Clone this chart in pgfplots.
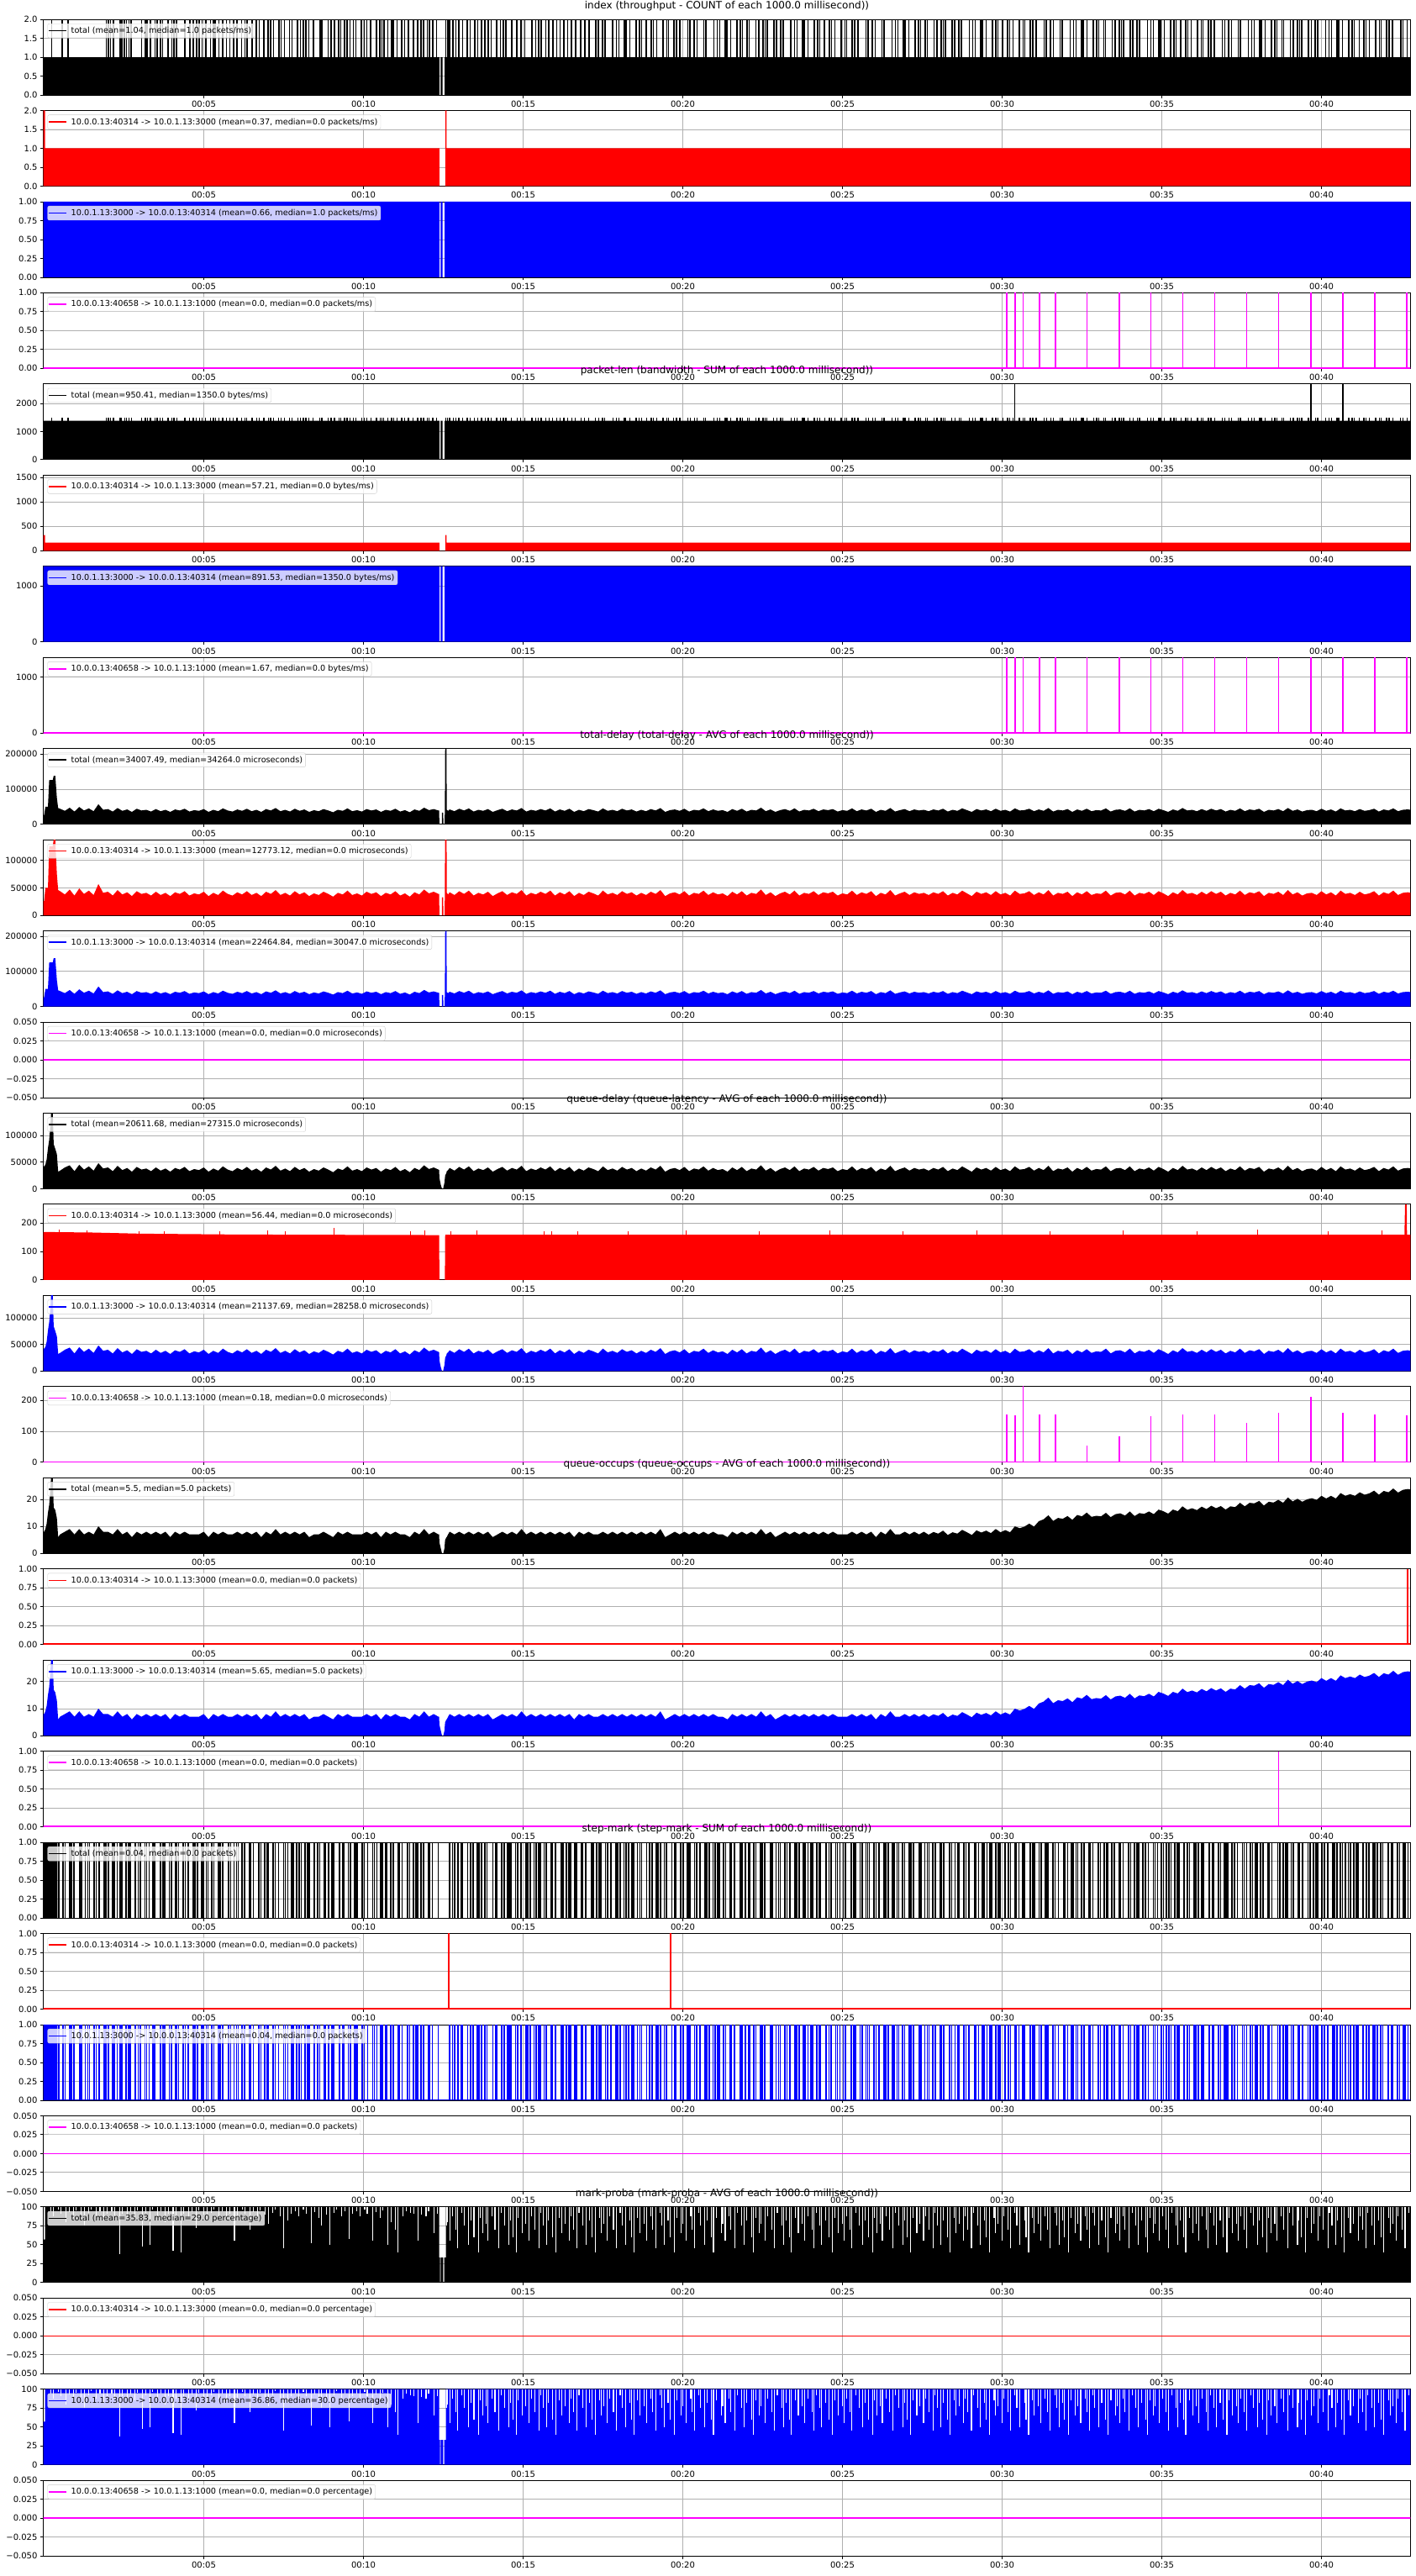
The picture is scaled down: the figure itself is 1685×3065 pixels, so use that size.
\documentclass[border=0pt]{standalone}
\usepackage{fontspec}
\setmainfont{DejaVu Sans}
\usepackage{pgfplots}
\usepackage{pgfplotstable}
\pgfplotsset{compat=1.18}
\definecolor{gridc}{HTML}{B0B0B0}
\definecolor{legc}{HTML}{CCCCCC}
\definecolor{mag}{HTML}{FF00FF}
\definecolor{rd}{HTML}{FF0000}
\definecolor{bl}{HTML}{0000FF}
\pgfplotsset{
  layers/mine/.define layer set={axis background,axis grid,pre main,main,axis ticks,axis lines,axis tick labels,axis descriptions,axis foreground}{},
  pan/.style={
    set layers=mine,
    anchor=north west,
    width=1627pt, height=90pt, scale only axis,
    xmin=-0.026, xmax=42.79,
    xtick={5,10,15,20,25,30,35,40},
    xticklabels={00:05,00:10,00:15,00:20,00:25,00:30,00:35,00:40},
    tick pos=left, tick align=outside, major tick length=3.5pt,
    tick style={black, line width=0.8pt},
    axis line style={black, line width=0.8pt},
    grid=major, grid style={gridc, line width=0.8pt},
    tick label style={font=\fontsize{10}{12}\selectfont},
    scaled y ticks=false,
    legend style={at={(0,1)}, anchor=north west, xshift=5pt, yshift=-5pt,
      draw=legc, fill=white, fill opacity=0.8, text opacity=1,
      rounded corners=2pt, inner xsep=1pt, inner ysep=1.5pt,
      font=\fontsize{9.7}{11.6}\selectfont, nodes={inner sep=2.5pt}},
    legend cell align=left,
    legend image code/.code={\draw[##1] (0pt,0pt) -- (21pt,0pt); \path (23pt,0pt);},
    title style={font=\fontsize{12}{14}\selectfont, at={(0.5,1)}, anchor=base, yshift=6.5pt},
  },
  yA/.style={ymin=0,ymax=2,ytick={0,0.5,1,1.5,2},yticklabels={0.0,0.5,1.0,1.5,2.0}},
  yB/.style={ymin=0,ymax=1,ytick={0,0.25,0.5,0.75,1},yticklabels={0.00,0.25,0.50,0.75,1.00}},
  yZ/.style={ymin=-0.05,ymax=0.05,ytick={-0.05,-0.025,0,0.025,0.05},yticklabels={−0.050,−0.025,0.000,0.025,0.050}},
  yP/.style={ymin=0,ymax=100,ytick={0,25,50,75,100},yticklabels={0,25,50,75,100}},
}
\newcommand{\leg}[2]{\addlegendimage{#1,line width=1.5pt}\addlegendentry{#2}}
\newcommand{\zl}[2]{\addplot[#1, line width=#2, forget plot] coordinates {(-0.1,0)(42.9,0)};}

% x (minutes), td = total-delay (thousand us), qd = queue-delay (thousand us), qo = queue occupancy (packets)
\pgfplotstableread{
x td qd qo
-0.10 26 42 8
0.00 26 42 8
0.04 50 45 9
0.08 50 55 11
0.12 50 76 15
0.16 126 92 18
0.20 126 120 24
0.22 126 145 29
0.27 126 145 29
0.30 138 84 17
0.35 138 75 16
0.40 75 65 13
0.44 46 32 6
0.50 44 34 7
0.65 38 40 8
0.80 47 44 9
0.95 36 33 7
1.10 49 45 9
1.25 39 36 7
1.40 45 42 8
1.55 37 34 7
1.70 57 48 10
1.85 41 38 8
2.00 43 40 8
2.15 36 33 7
2.30 46 43 9
2.45 38 35 7
2.60 42 39 8
2.75 35 32 6
2.90 44 41 8
3.05 39 36 7
3.20 41 38 8
3.35 36 33 7
3.50 43 40 8
3.65 37 34 7
3.80 41 38 8
3.95 35 32 6
4.10 42 39 8
4.25 39 36 7
4.40 44 41 8
4.55 36 33 7
4.70 40 37 7
4.85 38 35 7
5.00 43 40 8
5.15 35 32 6
5.30 41 38 8
5.45 37 34 7
5.60 45 42 8
5.75 39 36 7
5.90 36 33 7
6.05 42 39 8
6.20 38 35 7
6.35 44 41 8
6.50 37 34 7
6.65 41 38 8
6.80 35 32 6
6.95 43 40 8
7.10 39 36 7
7.25 46 43 9
7.40 37 34 7
7.55 41 38 8
7.70 36 33 7
7.85 44 41 8
8.00 38 35 7
8.15 42 39 8
8.30 35 32 6
8.45 40 37 7
8.60 37 34 7
8.75 43 40 8
8.90 39 36 7
9.05 34 31 6
9.20 41 38 8
9.35 38 35 7
9.50 45 42 8
9.65 37 34 7
9.80 40 37 7
9.95 36 33 7
10.10 43 40 8
10.25 39 36 7
10.40 42 39 8
10.55 35 32 6
10.70 41 38 8
10.85 38 35 7
11.00 44 41 8
11.15 36 33 7
11.30 40 37 7
11.45 34 31 6
11.60 42 39 8
11.75 38 35 7
11.90 47 44 9
12.05 40 37 7
12.20 43 40 8
12.35 39 36 7
12.37 39 35 7
12.38 0 20 4
12.42 0 8 2
12.46 0 0 0
12.461 33 0 0
12.50 33 0 0
12.501 0 2 0
12.54 0 12 2
12.55 40 20 4
12.56 216 25 5
12.60 216 30 6
12.61 41 33 6
12.65 38 35 7
12.70 42 39 8
12.85 37 34 7
13.00 44 41 8
13.15 39 36 7
13.30 45 42 8
13.45 36 33 7
13.60 41 38 8
13.75 38 35 7
13.90 43 40 8
14.05 35 32 6
14.20 40 37 7
14.35 44 41 8
14.50 37 34 7
14.65 42 39 8
14.80 39 36 7
14.95 46 43 9
15.10 36 33 7
15.25 41 38 8
15.40 38 35 7
15.55 43 40 8
15.70 39 36 7
15.85 45 42 8
16.00 36 33 7
16.15 42 39 8
16.30 38 35 7
16.45 44 41 8
16.60 35 32 6
16.75 41 38 8
16.90 37 34 7
17.05 43 40 8
17.20 40 37 7
17.35 36 33 7
17.50 45 42 8
17.65 38 35 7
17.80 41 38 8
17.95 37 34 7
18.10 44 41 8
18.25 39 36 7
18.40 42 39 8
18.55 36 33 7
18.70 41 38 8
18.85 37 34 7
19.00 43 40 8
19.15 39 36 7
19.30 46 43 9
19.45 35 32 6
19.60 40 37 7
19.75 42 39 8
19.90 38 35 7
20.05 44 41 8
20.20 36 33 7
20.35 41 38 8
20.50 39 36 7
20.65 45 42 8
20.80 37 34 7
20.95 42 39 8
21.10 38 35 7
21.25 40 37 7
21.40 35 32 6
21.55 43 40 8
21.70 38 35 7
21.85 44 41 8
22.00 36 33 7
22.15 41 38 8
22.30 39 36 7
22.45 47 44 9
22.60 37 34 7
22.75 42 39 8
22.90 35 32 6
23.05 40 37 7
23.20 43 40 8
23.35 38 35 7
23.50 45 42 8
23.65 36 33 7
23.80 41 38 8
23.95 39 36 7
24.10 44 41 8
24.25 37 34 7
24.40 42 39 8
24.55 40 37 7
24.70 43 40 8
24.85 36 33 7
25.00 40 37 7
25.15 38 35 7
25.30 45 42 8
25.45 37 34 7
25.60 42 39 8
25.75 39 36 7
25.90 44 41 8
26.05 35 32 6
26.20 41 38 8
26.35 38 35 7
26.50 46 43 9
26.65 36 33 7
26.80 40 37 7
26.95 43 40 8
27.10 37 34 7
27.25 42 39 8
27.40 39 36 7
27.55 41 38 8
27.70 37 34 6.9
27.85 42 39 7.9
28.00 39 36 7.3
28.15 44 41 8.4
28.30 36 33 6.8
28.45 41 38 7.8
28.60 38 35 7.3
28.75 45 42 8.7
28.90 40 37 7.8
29.05 35 32 6.8
29.20 43 40 8.5
29.35 39 36 7.7
29.50 42 39 8.4
29.65 37 34 7.5
29.80 44 41 9.0
29.95 38 35 7.8
30.10 41 38 8.6
30.25 36 33 7.8
30.40 45 42 10.0
30.55 39 36 9.3
30.70 40 37 9.9
30.85 44 41 11.0
31.00 37 34 9.9
31.15 42 39 11.9
31.30 38 35 12.6
31.45 46 43 14.1
31.60 36 33 12.0
31.75 41 38 13.1
31.90 39 36 12.8
32.05 43 40 13.8
32.20 35 32 12.4
32.35 42 39 14.2
32.50 38 35 13.7
32.65 44 41 15.1
32.80 37 34 13.5
32.95 40 37 13.9
33.10 39 36 13.7
33.25 45 42 15.0
33.40 36 33 13.4
33.55 41 38 14.5
33.70 42 39 14.8
33.85 38 35 14.0
34.00 45 42 15.5
34.15 36 33 13.8
34.30 41 38 14.9
34.45 39 36 14.6
34.60 43 40 15.5
34.75 37 34 14.5
34.90 44 41 16.2
35.05 40 37 15.6
35.20 35 32 14.7
35.35 42 39 16.2
35.50 38 35 15.6
35.65 46 43 17.4
35.80 39 36 16.1
35.95 41 38 16.7
36.10 37 34 16.0
36.25 43 40 17.3
36.40 38 35 16.4
36.55 44 41 17.6
36.70 39 36 16.7
36.85 43 40 17.5
37.00 36 33 16.2
37.15 41 38 17.4
37.30 38 35 17.1
37.45 45 42 18.7
37.60 37 34 17.4
37.75 42 39 18.7
37.90 40 37 18.5
38.05 44 41 19.4
38.20 35 32 17.7
38.35 41 38 19.1
38.50 39 36 18.8
38.65 43 40 19.8
38.80 37 34 18.7
38.95 46 43 20.7
39.10 38 35 19.2
39.25 42 39 20.2
39.40 36 33 19.1
39.55 40 37 20.0
39.70 41 38 20.4
39.85 37 34 19.8
40.00 44 41 21.3
40.15 38 35 20.3
40.30 42 39 21.3
40.45 36 33 20.3
40.60 45 42 22.3
40.75 39 36 21.3
40.90 41 38 21.9
41.05 37 34 21.3
41.20 43 40 22.6
41.35 38 35 21.7
41.50 40 37 22.2
41.65 44 41 23.2
41.80 36 33 21.7
41.95 42 39 23.1
42.10 39 36 22.6
42.25 45 42 24.0
42.40 37 34 22.5
42.55 41 38 23.5
42.70 42 39 23.8
42.90 40 37 23.5
}\tD

% index: positions of 1-second bins holding 2 packets (c = count, b = bytes)
\pgfplotstableread[row sep=\\]{x c b\\0.24 2 1500\\0.57 2 1500\\0.75 2 1500\\1.95 2 1500\\2.01 2 1500\\2.08 2 1500\\2.17 2 1500\\2.38 2 1500\\2.43 2 1500\\2.52 2 1500\\2.58 2 1500\\2.66 2 1500\\2.73 2 1500\\3.05 2 1500\\3.17 2 1500\\3.23 2 1500\\3.33 2 1500\\3.47 2 1500\\3.54 2 1500\\3.64 2 1500\\3.71 2 1500\\3.88 2 1500\\4.00 2 1500\\4.07 2 1500\\4.15 2 1500\\4.41 2 1500\\4.56 2 1500\\4.67 2 1500\\4.77 2 1500\\4.86 2 1500\\4.95 2 1500\\5.06 2 1500\\5.21 2 1500\\5.30 2 1500\\5.36 2 1500\\5.47 2 1500\\5.59 2 1500\\5.71 2 1500\\5.82 2 1500\\5.93 2 1500\\6.04 2 1500\\6.18 2 1500\\6.29 2 1500\\6.35 2 1500\\6.51 2 1500\\6.65 2 1500\\6.74 2 1500\\6.88 2 1500\\7.02 2 1500\\7.09 2 1500\\7.18 2 1500\\7.35 2 1500\\7.42 2 1500\\7.53 2 1500\\7.68 2 1500\\7.76 2 1500\\7.94 2 1500\\8.03 2 1500\\8.12 2 1500\\8.20 2 1500\\8.29 2 1500\\8.43 2 1500\\8.64 2 1500\\8.70 2 1500\\8.90 2 1500\\8.99 2 1500\\9.09 2 1500\\9.23 2 1500\\9.29 2 1500\\9.41 2 1500\\9.49 2 1500\\9.58 2 1500\\9.68 2 1500\\9.76 2 1500\\9.94 2 1500\\10.03 2 1500\\10.11 2 1500\\10.23 2 1500\\10.41 2 1500\\10.52 2 1500\\10.58 2 1500\\10.64 2 1500\\10.76 2 1500\\10.88 2 1500\\10.94 2 1500\\11.05 2 1500\\11.20 2 1500\\11.29 2 1500\\11.41 2 1500\\11.56 2 1500\\11.70 2 1500\\11.80 2 1500\\11.88 2 1500\\12.00 2 1500\\12.06 2 1500\\12.17 2 1500\\12.29 2 1500\\12.58 2 1500\\12.64 2 1500\\12.70 2 1500\\12.81 2 1500\\12.90 2 1500\\12.99 2 1500\\13.11 2 1500\\13.25 2 1500\\13.34 2 1500\\13.48 2 1500\\13.58 2 1500\\13.70 2 1500\\13.81 2 1500\\13.91 2 1500\\14.00 2 1500\\14.17 2 1500\\14.29 2 1500\\14.38 2 1500\\14.46 2 1500\\14.64 2 1500\\14.81 2 1500\\14.93 2 1500\\15.05 2 1500\\15.28 2 1500\\15.40 2 1500\\15.48 2 1500\\15.57 2 1500\\15.71 2 1500\\15.81 2 1500\\15.93 2 1500\\16.05 2 1500\\16.16 2 1500\\16.28 2 1500\\16.40 2 1500\\16.52 2 1500\\16.64 2 1500\\16.81 2 1500\\16.93 2 1500\\17.06 2 1500\\17.27 2 1500\\17.36 2 1500\\17.49 2 1500\\17.56 2 1500\\17.81 2 1500\\17.92 2 1500\\18.00 2 1500\\18.17 2 1500\\18.22 2 1500\\18.34 2 1500\\18.54 2 1500\\18.64 2 1500\\18.71 2 1500\\18.86 2 1500\\19.01 2 1500\\19.08 2 1500\\19.18 2 1500\\19.38 2 1500\\19.50 2 1500\\19.55 2 1500\\19.72 2 1500\\19.80 2 1500\\19.91 2 1500\\20.16 2 1500\\20.23 2 1500\\20.36 2 1500\\20.45 2 1500\\20.66 2 1500\\20.72 2 1500\\20.97 2 1500\\21.08 2 1500\\21.16 2 1500\\21.33 2 1500\\21.38 2 1500\\21.50 2 1500\\21.70 2 1500\\21.80 2 1500\\21.87 2 1500\\22.02 2 1500\\22.08 2 1500\\22.29 2 1500\\22.38 2 1500\\22.51 2 1500\\22.58 2 1500\\22.64 2 1500\\22.85 2 1500\\22.94 2 1500\\23.07 2 1500\\23.14 2 1500\\23.39 2 1500\\23.50 2 1500\\23.58 2 1500\\23.75 2 1500\\23.80 2 1500\\23.92 2 1500\\24.12 2 1500\\24.22 2 1500\\24.29 2 1500\\24.44 2 1500\\24.59 2 1500\\24.66 2 1500\\24.76 2 1500\\24.96 2 1500\\25.08 2 1500\\25.13 2 1500\\25.30 2 1500\\25.38 2 1500\\25.49 2 1500\\25.74 2 1500\\25.81 2 1500\\25.94 2 1500\\26.03 2 1500\\26.24 2 1500\\26.30 2 1500\\26.55 2 1500\\26.66 2 1500\\26.74 2 1500\\26.91 2 1500\\26.96 2 1500\\27.08 2 1500\\27.28 2 1500\\27.38 2 1500\\27.45 2 1500\\27.60 2 1500\\27.66 2 1500\\27.87 2 1500\\27.96 2 1500\\28.09 2 1500\\28.16 2 1500\\28.22 2 1500\\28.43 2 1500\\28.52 2 1500\\28.65 2 1500\\28.72 2 1500\\28.97 2 1500\\29.08 2 1500\\29.16 2 1500\\29.33 2 1500\\29.38 2 1500\\29.50 2 1500\\29.70 2 1500\\29.80 2 1500\\29.87 2 1500\\30.02 2 1500\\30.17 2 1500\\30.24 2 1500\\30.34 2 1500\\30.54 2 1500\\30.66 2 1500\\30.71 2 1500\\30.88 2 1500\\30.96 2 1500\\31.07 2 1500\\31.32 2 1500\\31.39 2 1500\\31.52 2 1500\\31.61 2 1500\\31.82 2 1500\\31.88 2 1500\\32.13 2 1500\\32.24 2 1500\\32.32 2 1500\\32.49 2 1500\\32.54 2 1500\\32.66 2 1500\\32.86 2 1500\\32.96 2 1500\\33.03 2 1500\\33.18 2 1500\\33.24 2 1500\\33.45 2 1500\\33.54 2 1500\\33.67 2 1500\\33.74 2 1500\\33.80 2 1500\\34.01 2 1500\\34.10 2 1500\\34.23 2 1500\\34.30 2 1500\\34.55 2 1500\\34.66 2 1500\\34.74 2 1500\\34.91 2 1500\\34.96 2 1500\\35.08 2 1500\\35.28 2 1500\\35.38 2 1500\\35.45 2 1500\\35.60 2 1500\\35.75 2 1500\\35.82 2 1500\\35.92 2 1500\\36.12 2 1500\\36.24 2 1500\\36.29 2 1500\\36.46 2 1500\\36.54 2 1500\\36.65 2 1500\\36.90 2 1500\\36.97 2 1500\\37.10 2 1500\\37.19 2 1500\\37.40 2 1500\\37.46 2 1500\\37.71 2 1500\\37.82 2 1500\\37.90 2 1500\\38.07 2 1500\\38.12 2 1500\\38.24 2 1500\\38.44 2 1500\\38.54 2 1500\\38.61 2 1500\\38.76 2 1500\\38.82 2 1500\\39.03 2 1500\\39.12 2 1500\\39.25 2 1500\\39.32 2 1500\\39.38 2 1500\\39.59 2 1500\\39.68 2 1500\\39.81 2 1500\\39.88 2 1500\\40.13 2 1500\\40.24 2 1500\\40.32 2 1500\\40.49 2 1500\\40.54 2 1500\\40.66 2 1500\\40.86 2 1500\\40.96 2 1500\\41.03 2 1500\\41.18 2 1500\\41.33 2 1500\\41.40 2 1500\\41.50 2 1500\\41.70 2 1500\\41.82 2 1500\\41.87 2 1500\\42.04 2 1500\\42.12 2 1500\\42.23 2 1500\\42.48 2 1500\\42.55 2 1500\\42.68 2 1500\\}\tIdx

% step-mark: bins holding one marked packet
\pgfplotstableread[row sep=\\]{x s\\0.47 1\\0.59 1\\0.66 1\\0.81 1\\0.85 1\\0.94 1\\1.12 1\\1.18 1\\1.29 1\\1.37 1\\1.42 1\\1.56 1\\1.63 1\\1.73 1\\1.89 1\\1.94 1\\2.02 1\\2.14 1\\2.20 1\\2.29 1\\2.38 1\\2.44 1\\2.56 1\\2.64 1\\2.69 1\\2.85 1\\2.95 1\\3.02 1\\3.16 1\\3.21 1\\3.29 1\\3.40 1\\3.46 1\\3.64 1\\3.73 1\\3.77 1\\3.92 1\\3.99 1\\4.11 1\\4.16 1\\4.21 1\\4.35 1\\4.42 1\\4.52 1\\4.68 1\\4.73 1\\4.81 1\\4.93 1\\4.99 1\\5.08 1\\5.13 1\\5.25 1\\5.32 1\\5.47 1\\5.51 1\\5.60 1\\5.78 1\\5.84 1\\5.95 1\\6.03 1\\6.08 1\\6.20 1\\6.27 1\\6.42 1\\6.46 1\\6.55 1\\6.73 1\\6.79 1\\6.90 1\\6.98 1\\7.03 1\\7.17 1\\7.24 1\\7.34 1\\7.50 1\\7.55 1\\7.63 1\\7.75 1\\7.81 1\\7.90 1\\7.99 1\\8.05 1\\8.17 1\\8.25 1\\8.30 1\\8.46 1\\8.56 1\\8.63 1\\8.77 1\\8.82 1\\8.90 1\\9.01 1\\9.07 1\\9.25 1\\9.34 1\\9.38 1\\9.53 1\\9.60 1\\9.72 1\\9.77 1\\9.82 1\\9.96 1\\10.03 1\\10.13 1\\10.29 1\\10.34 1\\10.42 1\\10.54 1\\10.60 1\\10.69 1\\10.74 1\\10.86 1\\10.93 1\\11.08 1\\11.12 1\\11.21 1\\11.39 1\\11.45 1\\11.56 1\\11.64 1\\11.69 1\\11.81 1\\11.88 1\\12.03 1\\12.07 1\\12.16 1\\12.34 1\\12.70 1\\12.79 1\\12.85 1\\12.97 1\\13.05 1\\13.10 1\\13.26 1\\13.36 1\\13.43 1\\13.57 1\\13.62 1\\13.70 1\\13.81 1\\13.87 1\\14.05 1\\14.14 1\\14.18 1\\14.33 1\\14.40 1\\14.52 1\\14.57 1\\14.62 1\\14.76 1\\14.83 1\\14.93 1\\15.09 1\\15.14 1\\15.22 1\\15.34 1\\15.40 1\\15.49 1\\15.54 1\\15.66 1\\15.73 1\\15.88 1\\15.92 1\\16.01 1\\16.19 1\\16.25 1\\16.36 1\\16.44 1\\16.49 1\\16.61 1\\16.68 1\\16.83 1\\16.87 1\\16.96 1\\17.14 1\\17.20 1\\17.31 1\\17.39 1\\17.44 1\\17.58 1\\17.65 1\\17.75 1\\17.91 1\\17.96 1\\18.04 1\\18.16 1\\18.22 1\\18.31 1\\18.40 1\\18.46 1\\18.58 1\\18.66 1\\18.71 1\\18.87 1\\18.97 1\\19.04 1\\19.18 1\\19.23 1\\19.31 1\\19.42 1\\19.48 1\\19.66 1\\19.75 1\\19.79 1\\19.94 1\\20.01 1\\20.13 1\\20.18 1\\20.23 1\\20.37 1\\20.44 1\\20.54 1\\20.70 1\\20.75 1\\20.83 1\\20.95 1\\21.01 1\\21.10 1\\21.15 1\\21.27 1\\21.34 1\\21.49 1\\21.53 1\\21.62 1\\21.80 1\\21.86 1\\21.97 1\\22.05 1\\22.10 1\\22.22 1\\22.29 1\\22.44 1\\22.48 1\\22.57 1\\22.75 1\\22.81 1\\22.92 1\\23.00 1\\23.05 1\\23.19 1\\23.26 1\\23.36 1\\23.52 1\\23.57 1\\23.65 1\\23.77 1\\23.83 1\\23.92 1\\24.01 1\\24.07 1\\24.19 1\\24.27 1\\24.32 1\\24.48 1\\24.58 1\\24.65 1\\24.79 1\\24.84 1\\24.92 1\\25.03 1\\25.09 1\\25.27 1\\25.36 1\\25.40 1\\25.55 1\\25.62 1\\25.74 1\\25.79 1\\25.84 1\\25.98 1\\26.05 1\\26.15 1\\26.31 1\\26.36 1\\26.44 1\\26.56 1\\26.62 1\\26.71 1\\26.76 1\\26.88 1\\26.95 1\\27.10 1\\27.14 1\\27.23 1\\27.41 1\\27.47 1\\27.58 1\\27.66 1\\27.71 1\\27.83 1\\27.90 1\\28.05 1\\28.09 1\\28.18 1\\28.36 1\\28.42 1\\28.53 1\\28.61 1\\28.66 1\\28.80 1\\28.87 1\\28.97 1\\29.13 1\\29.18 1\\29.26 1\\29.38 1\\29.44 1\\29.53 1\\29.62 1\\29.68 1\\29.80 1\\29.88 1\\29.93 1\\30.09 1\\30.19 1\\30.26 1\\30.40 1\\30.45 1\\30.53 1\\30.64 1\\30.70 1\\30.88 1\\30.97 1\\31.01 1\\31.16 1\\31.23 1\\31.35 1\\31.40 1\\31.45 1\\31.59 1\\31.66 1\\31.76 1\\31.92 1\\31.97 1\\32.05 1\\32.17 1\\32.23 1\\32.32 1\\32.37 1\\32.49 1\\32.56 1\\32.71 1\\32.75 1\\32.84 1\\33.02 1\\33.08 1\\33.19 1\\33.27 1\\33.32 1\\33.44 1\\33.51 1\\33.66 1\\33.70 1\\33.79 1\\33.97 1\\34.03 1\\34.14 1\\34.22 1\\34.27 1\\34.41 1\\34.48 1\\34.58 1\\34.74 1\\34.79 1\\34.87 1\\34.99 1\\35.05 1\\35.14 1\\35.23 1\\35.29 1\\35.41 1\\35.49 1\\35.54 1\\35.70 1\\35.80 1\\35.87 1\\36.01 1\\36.06 1\\36.14 1\\36.25 1\\36.31 1\\36.49 1\\36.58 1\\36.62 1\\36.77 1\\36.84 1\\36.96 1\\37.01 1\\37.06 1\\37.20 1\\37.27 1\\37.37 1\\37.53 1\\37.58 1\\37.66 1\\37.78 1\\37.84 1\\37.93 1\\37.98 1\\38.10 1\\38.17 1\\38.32 1\\38.36 1\\38.45 1\\38.63 1\\38.69 1\\38.80 1\\38.88 1\\38.93 1\\39.05 1\\39.12 1\\39.27 1\\39.31 1\\39.40 1\\39.58 1\\39.64 1\\39.75 1\\39.83 1\\39.88 1\\40.02 1\\40.09 1\\40.19 1\\40.35 1\\40.40 1\\40.48 1\\40.60 1\\40.66 1\\40.75 1\\40.84 1\\40.90 1\\41.02 1\\41.10 1\\41.15 1\\41.31 1\\41.41 1\\41.48 1\\41.62 1\\41.67 1\\41.75 1\\41.86 1\\41.92 1\\42.10 1\\42.19 1\\42.23 1\\42.38 1\\42.45 1\\42.57 1\\42.62 1\\42.71 1\\}\tSM

% magenta flow: x, index count, bytes, queue delay (us)
\pgfplotstableread{
x i b q
30.15 1 1350 155
30.40 1 1350 153
30.66 1 1350 250
31.17 1 1350 155
31.67 1 1350 155
32.66 1 1350 55
33.67 1 1350 83
34.66 1 1350 148
35.66 1 1350 155
36.66 1 1350 155
37.66 1 1350 127
38.66 1 1350 160
39.67 1 1350 212
40.67 1 1350 160
41.67 1 1350 154
42.68 1 1350 153
}\tMag

% mark-proba: dips below 100 (x, top, depth of the dip)
\pgfplotstableread[row sep=\\]{x t e\\0.20 100 6\\0.30 100 12\\0.44 100 4\\0.52 100 9\\0.68 100 20\\0.79 100 7\\0.92 100 15\\1.01 100 5\\1.16 100 10\\1.26 100 25\\1.40 100 8\\1.48 100 3\\1.64 100 12\\1.75 100 6\\1.88 100 18\\1.97 100 9\\2.12 100 6\\2.22 100 12\\2.36 100 62\\2.44 100 9\\2.60 100 14\\2.71 100 7\\2.84 100 15\\2.93 100 5\\3.08 100 52\\3.18 100 8\\3.32 100 50\\3.40 100 4\\3.56 100 12\\3.67 100 6\\3.80 100 20\\3.89 100 9\\4.04 100 58\\4.14 100 12\\4.28 100 60\\4.36 100 9\\4.52 100 14\\4.63 100 7\\4.76 100 28\\4.85 100 5\\5.00 100 10\\5.10 100 18\\5.24 100 8\\5.32 100 4\\5.48 100 12\\5.59 100 6\\5.72 100 15\\5.81 100 9\\5.96 100 45\\6.06 100 12\\6.20 100 4\\6.28 100 9\\6.44 100 30\\6.55 100 7\\6.68 100 15\\6.77 100 5\\6.92 100 10\\7.02 100 22\\7.16 100 8\\7.24 100 3\\7.40 100 12\\7.51 100 55\\7.64 100 18\\7.73 100 9\\7.88 100 6\\7.98 100 12\\8.12 100 4\\8.20 100 9\\8.36 100 48\\8.47 100 7\\8.60 100 15\\8.69 100 25\\8.84 100 10\\8.94 100 50\\9.08 100 8\\9.16 100 3\\9.32 100 12\\9.43 100 6\\9.56 100 42\\9.65 100 9\\9.80 100 6\\9.90 100 12\\10.04 100 4\\10.12 100 9\\10.28 100 45\\10.39 100 7\\10.52 100 15\\10.61 100 5\\10.76 100 50\\10.86 100 20\\11.00 100 30\\11.08 100 60\\11.24 100 12\\11.35 100 6\\11.48 100 8\\11.57 100 9\\11.72 100 45\\11.82 100 10\\11.96 100 12\\12.04 100 6\\12.20 100 35\\12.31 100 9\\12.60 100 25\\12.62 100 20\\12.70 100 45\\12.78 100 12\\12.89 100 30\\12.95 100 55\\13.08 100 8\\13.17 100 25\\13.29 100 50\\13.36 100 18\\13.46 100 40\\13.60 100 60\\13.65 100 15\\13.73 100 35\\13.84 100 22\\13.90 100 45\\14.03 100 12\\14.12 100 30\\14.24 100 55\\14.31 100 8\\14.41 100 25\\14.55 100 50\\14.60 100 18\\14.68 100 40\\14.79 100 60\\14.85 100 15\\14.98 100 35\\15.07 100 22\\15.19 100 45\\15.26 100 12\\15.36 100 30\\15.50 100 55\\15.55 100 8\\15.63 100 25\\15.74 100 50\\15.80 100 18\\15.93 100 40\\16.02 100 60\\16.14 100 15\\16.21 100 35\\16.31 100 22\\16.45 100 45\\16.50 100 12\\16.58 100 30\\16.69 100 55\\16.75 100 8\\16.88 100 25\\16.97 100 50\\17.09 100 18\\17.16 100 40\\17.26 100 60\\17.40 100 15\\17.45 100 35\\17.53 100 22\\17.64 100 45\\17.70 100 12\\17.83 100 30\\17.92 100 55\\18.04 100 8\\18.11 100 25\\18.21 100 50\\18.35 100 18\\18.40 100 40\\18.48 100 60\\18.59 100 15\\18.65 100 35\\18.78 100 22\\18.87 100 45\\18.99 100 12\\19.06 100 30\\19.16 100 55\\19.30 100 8\\19.35 100 25\\19.43 100 50\\19.54 100 18\\19.60 100 40\\19.73 100 60\\19.82 100 15\\19.94 100 35\\20.01 100 22\\20.11 100 45\\20.25 100 12\\20.30 100 30\\20.38 100 55\\20.49 100 8\\20.55 100 25\\20.68 100 50\\20.77 100 18\\20.89 100 40\\20.96 100 60\\21.06 100 15\\21.20 100 35\\21.25 100 22\\21.33 100 45\\21.44 100 12\\21.50 100 30\\21.63 100 55\\21.72 100 8\\21.84 100 25\\21.91 100 50\\22.01 100 18\\22.15 100 40\\22.20 100 60\\22.28 100 15\\22.39 100 35\\22.45 100 22\\22.58 100 45\\22.67 100 12\\22.79 100 30\\22.86 100 55\\22.96 100 8\\23.10 100 25\\23.15 100 50\\23.23 100 18\\23.34 100 40\\23.40 100 60\\23.53 100 15\\23.62 100 35\\23.74 100 22\\23.81 100 45\\23.91 100 12\\24.05 100 30\\24.10 100 55\\24.18 100 8\\24.29 100 25\\24.35 100 50\\24.48 100 18\\24.57 100 40\\24.69 100 60\\24.76 100 15\\24.86 100 35\\25.00 100 22\\25.05 100 45\\25.13 100 12\\25.24 100 30\\25.30 100 55\\25.43 100 8\\25.52 100 25\\25.64 100 50\\25.71 100 18\\25.81 100 40\\25.95 100 60\\26.00 100 15\\26.08 100 35\\26.19 100 22\\26.25 100 45\\26.38 100 12\\26.47 100 30\\26.59 100 55\\26.66 100 8\\26.76 100 25\\26.90 100 50\\26.95 100 18\\27.03 100 40\\27.14 100 60\\27.20 100 15\\27.33 100 35\\27.42 100 22\\27.54 100 45\\27.61 100 12\\27.71 100 30\\27.85 100 55\\27.90 100 8\\27.98 100 25\\28.09 100 50\\28.15 100 18\\28.28 100 40\\28.37 100 60\\28.49 100 15\\28.56 100 35\\28.66 100 22\\28.80 100 45\\28.85 100 12\\28.93 100 30\\29.04 100 55\\29.10 100 8\\29.23 100 25\\29.32 100 50\\29.44 100 18\\29.51 100 40\\29.61 100 60\\29.75 100 15\\29.80 100 35\\29.88 100 22\\29.99 100 45\\30.05 100 12\\30.18 100 30\\30.27 100 55\\30.39 100 8\\30.46 100 25\\30.56 100 50\\30.70 100 18\\30.75 100 40\\30.83 100 60\\30.94 100 15\\31.00 100 35\\31.13 100 22\\31.22 100 45\\31.34 100 12\\31.41 100 30\\31.51 100 55\\31.65 100 8\\31.70 100 25\\31.78 100 50\\31.89 100 18\\31.95 100 40\\32.08 100 60\\32.17 100 15\\32.29 100 35\\32.36 100 22\\32.46 100 45\\32.60 100 12\\32.65 100 30\\32.73 100 55\\32.84 100 8\\32.90 100 25\\33.03 100 50\\33.12 100 18\\33.24 100 40\\33.31 100 60\\33.41 100 15\\33.55 100 35\\33.60 100 22\\33.68 100 45\\33.79 100 12\\33.85 100 30\\33.98 100 55\\34.07 100 8\\34.19 100 25\\34.26 100 50\\34.36 100 18\\34.50 100 40\\34.55 100 60\\34.63 100 15\\34.74 100 35\\34.80 100 22\\34.93 100 45\\35.02 100 12\\35.14 100 30\\35.21 100 55\\35.31 100 8\\35.45 100 25\\35.50 100 50\\35.58 100 18\\35.69 100 40\\35.75 100 60\\35.88 100 15\\35.97 100 35\\36.09 100 22\\36.16 100 45\\36.26 100 12\\36.40 100 30\\36.45 100 55\\36.53 100 8\\36.64 100 25\\36.70 100 50\\36.83 100 18\\36.92 100 40\\37.04 100 60\\37.11 100 15\\37.21 100 35\\37.35 100 22\\37.40 100 45\\37.48 100 12\\37.59 100 30\\37.65 100 55\\37.78 100 8\\37.87 100 25\\37.99 100 50\\38.06 100 18\\38.16 100 40\\38.30 100 60\\38.35 100 15\\38.43 100 35\\38.54 100 22\\38.60 100 45\\38.73 100 12\\38.82 100 30\\38.94 100 55\\39.01 100 8\\39.11 100 25\\39.25 100 50\\39.30 100 18\\39.38 100 40\\39.49 100 60\\39.55 100 15\\39.68 100 35\\39.77 100 22\\39.89 100 45\\39.96 100 12\\40.06 100 30\\40.20 100 55\\40.25 100 8\\40.33 100 25\\40.44 100 50\\40.50 100 18\\40.63 100 40\\40.72 100 60\\40.84 100 15\\40.91 100 35\\41.01 100 22\\41.15 100 45\\41.20 100 12\\41.28 100 30\\41.39 100 55\\41.45 100 8\\41.58 100 25\\41.67 100 50\\41.79 100 18\\41.86 100 40\\41.96 100 60\\42.10 100 15\\42.15 100 35\\42.23 100 22\\42.34 100 45\\42.40 100 12\\42.53 100 30\\42.62 100 55\\42.74 100 8\\}\tMP

\begin{document}
\begin{tikzpicture}
% ---------------- index ----------------
\begin{axis}[pan, at={(0pt,0pt)}, yA, title={index (throughput - COUNT of each 1000.0 millisecond))}]
\addplot[fill=black, draw=none, forget plot] coordinates {(-0.1,0)(-0.1,1)(12.38,1)(12.38,0)(12.42,0)(12.42,1)(12.48,1)(12.48,0)(12.54,0)(12.54,1)(42.9,1)(42.9,0)} \closedcycle;
\addplot[ycomb, black, line width=1.6pt, forget plot] table[x=x,y=c]{\tIdx};
\leg{black}{total (mean=1.04, median=1.0 packets/ms)}
\end{axis}
\begin{axis}[pan, at={(0pt,-108.45pt)}, yA]
\addplot[fill=rd, draw=none, forget plot] coordinates {(-0.1,0)(-0.1,2)(0.03,2)(0.03,1)(12.38,1)(12.38,0)(12.56,0)(12.56,2)(12.60,2)(12.60,1)(42.9,1)(42.9,0)} \closedcycle;
\leg{rd}{10.0.0.13:40314 -> 10.0.1.13:3000 (mean=0.37, median=0.0 packets/ms)}
\end{axis}
\begin{axis}[pan, at={(0pt,-216.9pt)}, yB]
\addplot[fill=bl, draw=none, forget plot] coordinates {(-0.1,0)(-0.1,1)(12.38,1)(12.38,0)(12.42,0)(12.42,1)(12.48,1)(12.48,0)(12.54,0)(12.54,1)(42.9,1)(42.9,0)} \closedcycle;
\leg{bl}{10.0.1.13:3000 -> 10.0.0.13:40314 (mean=0.66, median=1.0 packets/ms)}
\end{axis}
\begin{axis}[pan, at={(0pt,-325.35pt)}, yB]
\zl{mag}{2.5pt}
\addplot[ycomb, mag, line width=1.8pt, forget plot] table[x=x,y=i]{\tMag};
\leg{mag}{10.0.0.13:40658 -> 10.0.1.13:1000 (mean=0.0, median=0.0 packets/ms)}
\end{axis}
% ---------------- packet-len ----------------
\begin{axis}[pan, at={(0pt,-433.8pt)}, ymin=0, ymax=2700, ytick={0,1000,2000}, yticklabels={0,1000,2000}, title={packet-len (bandwidth - SUM of each 1000.0 millisecond))}]
\addplot[fill=black, draw=none, forget plot] coordinates {(-0.1,0)(-0.1,1383)(12.38,1383)(12.38,0)(12.42,0)(12.42,1383)(12.48,1383)(12.48,0)(12.54,0)(12.54,1383)(42.9,1383)(42.9,0)} \closedcycle;
\addplot[ycomb, black, line width=1.3pt, forget plot] table[x=x,y=b]{\tIdx};
\addplot[ycomb, black, line width=1.6pt, forget plot] coordinates {(30.40,2700)(39.67,2700)(40.67,2700)};
\leg{black}{total (mean=950.41, median=1350.0 bytes/ms)}
\end{axis}
\begin{axis}[pan, at={(0pt,-542.25pt)}, ymin=0, ymax=1550, ytick={0,500,1000,1500}, yticklabels={0,500,1000,1500}]
\addplot[fill=rd, draw=none, forget plot] coordinates {(-0.1,0)(-0.1,322)(0.03,322)(0.03,167)(12.38,167)(12.38,0)(12.56,0)(12.56,320)(12.60,320)(12.60,167)(42.9,167)(42.9,0)} \closedcycle;
\leg{rd}{10.0.0.13:40314 -> 10.0.1.13:3000 (mean=57.21, median=0.0 bytes/ms)}
\end{axis}
\begin{axis}[pan, at={(0pt,-650.7pt)}, ymin=0, ymax=1350, ytick={0,1000}, yticklabels={0,1000}]
\addplot[fill=bl, draw=none, forget plot] coordinates {(-0.1,0)(-0.1,1350)(12.38,1350)(12.38,0)(12.42,0)(12.42,1350)(12.48,1350)(12.48,0)(12.54,0)(12.54,1350)(42.9,1350)(42.9,0)} \closedcycle;
\leg{bl}{10.0.1.13:3000 -> 10.0.0.13:40314 (mean=891.53, median=1350.0 bytes/ms)}
\end{axis}
\begin{axis}[pan, at={(0pt,-759.15pt)}, ymin=0, ymax=1350, ytick={0,1000}, yticklabels={0,1000}]
\zl{mag}{2.5pt}
\addplot[ycomb, mag, line width=1.8pt, forget plot] table[x=x,y=b]{\tMag};
\leg{mag}{10.0.0.13:40658 -> 10.0.1.13:1000 (mean=1.67, median=0.0 bytes/ms)}
\end{axis}
% ---------------- total-delay ----------------
\begin{axis}[pan, at={(0pt,-867.6pt)}, ymin=0, ymax=216, ytick={0,100,200}, yticklabels={0,100000,200000}, title={total-delay (total-delay - AVG of each 1000.0 millisecond))}]
\addplot[fill=black, draw=none, forget plot] table[x=x,y=td]{\tD} \closedcycle;
\leg{black}{total (mean=34007.49, median=34264.0 microseconds)}
\end{axis}
\begin{axis}[pan, at={(0pt,-976.05pt)}, ymin=0, ymax=138, ytick={0,50,100}, yticklabels={0,50000,100000}]
\addplot[fill=rd, draw=none, forget plot] table[x=x,y=td]{\tD} \closedcycle;
\leg{rd}{10.0.0.13:40314 -> 10.0.1.13:3000 (mean=12773.12, median=0.0 microseconds)}
\end{axis}
\begin{axis}[pan, at={(0pt,-1084.5pt)}, ymin=0, ymax=216, ytick={0,100,200}, yticklabels={0,100000,200000}]
\addplot[fill=bl, draw=none, forget plot] table[x=x,y=td]{\tD} \closedcycle;
\leg{bl}{10.0.1.13:3000 -> 10.0.0.13:40314 (mean=22464.84, median=30047.0 microseconds)}
\end{axis}
\begin{axis}[pan, at={(0pt,-1192.95pt)}, yZ]
\zl{mag}{1.5pt}
\leg{mag}{10.0.0.13:40658 -> 10.0.1.13:1000 (mean=0.0, median=0.0 microseconds)}
\end{axis}
% ---------------- queue-delay ----------------
\begin{axis}[pan, at={(0pt,-1301.4pt)}, ymin=0, ymax=142, ytick={0,50,100}, yticklabels={0,50000,100000}, title={queue-delay (queue-latency - AVG of each 1000.0 millisecond))}]
\addplot[fill=black, draw=none, forget plot] table[x=x,y=qd]{\tD} \closedcycle;
\leg{black}{total (mean=20611.68, median=27315.0 microseconds)}
\end{axis}
\begin{axis}[pan, at={(0pt,-1409.85pt)}, ymin=0, ymax=265, ytick={0,100,200}, yticklabels={0,100,200}]
\addplot[fill=rd, draw=none, forget plot] coordinates {(-0.1,0)(-0.1,168)(1.5,166)(3,162)(6,159)(9,158)(12.37,157)(12.38,0)(12.55,0)(12.56,158)(20,158)(30,158)(42.6,158)(42.62,265)(42.67,265)(42.68,158)(42.9,158)(42.9,0)} \closedcycle;
\addplot[ycomb, rd, line width=1pt, forget plot] coordinates {(0.48,176)(1.33,172)(2.98,170)(3.77,171)(5.50,169)(6.99,172)(7.56,170)(9.09,181)(11.47,171)(11.93,174)(12.73,170)(13.55,172)(15.67,170)(15.90,171)(16.72,169)(18.3,171)(20.1,173)(22.4,170)(24.6,172)(26.9,170)(29.2,174)(31.5,171)(33.8,172)(36.1,170)(38.0,175)(40.2,171)(41.9,173)};
\leg{rd}{10.0.0.13:40314 -> 10.0.1.13:3000 (mean=56.44, median=0.0 microseconds)}
\end{axis}
\begin{axis}[pan, at={(0pt,-1518.3pt)}, ymin=0, ymax=142, ytick={0,50,100}, yticklabels={0,50000,100000}]
\addplot[fill=bl, draw=none, forget plot] table[x=x,y=qd]{\tD} \closedcycle;
\leg{bl}{10.0.1.13:3000 -> 10.0.0.13:40314 (mean=21137.69, median=28258.0 microseconds)}
\end{axis}
\begin{axis}[pan, at={(0pt,-1626.75pt)}, ymin=0, ymax=245, ytick={0,100,200}, yticklabels={0,100,200}]
\zl{mag}{2.5pt}
\addplot[ycomb, mag, line width=1.8pt, forget plot] table[x=x,y=q]{\tMag};
\leg{mag}{10.0.0.13:40658 -> 10.0.1.13:1000 (mean=0.18, median=0.0 microseconds)}
\end{axis}
% ---------------- queue-occups ----------------
\begin{axis}[pan, at={(0pt,-1735.2pt)}, ymin=0, ymax=28, ytick={0,10,20}, yticklabels={0,10,20}, title={queue-occups (queue-occups - AVG of each 1000.0 millisecond))}]
\addplot[fill=black, draw=none, forget plot] table[x=x,y=qo]{\tD} \closedcycle;
\leg{black}{total (mean=5.5, median=5.0 packets)}
\end{axis}
\begin{axis}[pan, at={(0pt,-1843.65pt)}, yB]
\zl{rd}{2.5pt}
\addplot[ycomb, rd, line width=1.8pt, forget plot] coordinates {(42.70,1)};
\leg{rd}{10.0.0.13:40314 -> 10.0.1.13:3000 (mean=0.0, median=0.0 packets)}
\end{axis}
\begin{axis}[pan, at={(0pt,-1952.1pt)}, ymin=0, ymax=28, ytick={0,10,20}, yticklabels={0,10,20}]
\addplot[fill=bl, draw=none, forget plot] table[x=x,y=qo]{\tD} \closedcycle;
\leg{bl}{10.0.1.13:3000 -> 10.0.0.13:40314 (mean=5.65, median=5.0 packets)}
\end{axis}
\begin{axis}[pan, at={(0pt,-2060.55pt)}, yB]
\zl{mag}{2.5pt}
\addplot[ycomb, mag, line width=1.8pt, forget plot] coordinates {(38.66,1)};
\leg{mag}{10.0.0.13:40658 -> 10.0.1.13:1000 (mean=0.0, median=0.0 packets)}
\end{axis}
% ---------------- step-mark ----------------
\begin{axis}[pan, at={(0pt,-2169pt)}, yB, title={step-mark (step-mark - SUM of each 1000.0 millisecond))}]
\addplot[fill=black, draw=none, forget plot] coordinates {(-0.1,0)(-0.1,1)(0.42,1)(0.42,0)} \closedcycle;
\addplot[ycomb, black, line width=1.7pt, forget plot] table[x=x,y=s]{\tSM};
\leg{black}{total (mean=0.04, median=0.0 packets)}
\end{axis}
\begin{axis}[pan, at={(0pt,-2277.45pt)}, yB]
\zl{rd}{2.5pt}
\addplot[ycomb, rd, line width=1.8pt, forget plot] coordinates {(12.68,1)(19.62,1)};
\leg{rd}{10.0.0.13:40314 -> 10.0.1.13:3000 (mean=0.0, median=0.0 packets)}
\end{axis}
\begin{axis}[pan, at={(0pt,-2385.9pt)}, yB]
\zl{bl}{2.5pt}
\addplot[fill=bl, draw=none, forget plot] coordinates {(-0.1,0)(-0.1,1)(0.42,1)(0.42,0)} \closedcycle;
\addplot[ycomb, bl, line width=1.7pt, forget plot] table[x=x,y=s]{\tSM};
\leg{bl}{10.0.1.13:3000 -> 10.0.0.13:40314 (mean=0.04, median=0.0 packets)}
\end{axis}
\begin{axis}[pan, at={(0pt,-2494.35pt)}, yZ]
\zl{mag}{1.5pt}
\leg{mag}{10.0.0.13:40658 -> 10.0.1.13:1000 (mean=0.0, median=0.0 packets)}
\end{axis}
% ---------------- mark-proba ----------------
\begin{axis}[pan, at={(0pt,-2602.8pt)}, yP, title={mark-proba (mark-proba - AVG of each 1000.0 millisecond))}]
\addplot[fill=black, draw=none, forget plot] coordinates {(-0.1,0)(-0.1,57)(0.03,57)(0.03,100)(12.37,100)(12.37,33)(12.40,33)(12.40,0)(12.42,0)(12.42,33)(12.50,33)(12.50,0)(12.53,0)(12.53,33)(12.58,33)(12.58,100)(42.9,100)(42.9,0)} \closedcycle;
\addplot[draw=none, mark=none, forget plot, error bars/.cd, y dir=minus, y explicit, error mark=none, error bar style={draw=white, line width=1.1pt}] table[x=x,y=t,y error minus=e]{\tMP};
\leg{black}{total (mean=35.83, median=29.0 percentage)}
\end{axis}
\begin{axis}[pan, at={(0pt,-2711.25pt)}, yZ]
\zl{rd}{1.5pt}
\leg{rd}{10.0.0.13:40314 -> 10.0.1.13:3000 (mean=0.0, median=0.0 percentage)}
\end{axis}
\begin{axis}[pan, at={(0pt,-2819.7pt)}, yP]
\addplot[fill=bl, draw=none, forget plot] coordinates {(-0.1,0)(-0.1,57)(0.03,57)(0.03,100)(12.37,100)(12.37,33)(12.40,33)(12.40,0)(12.42,0)(12.42,33)(12.50,33)(12.50,0)(12.53,0)(12.53,33)(12.58,33)(12.58,100)(42.9,100)(42.9,0)} \closedcycle;
\addplot[draw=none, mark=none, forget plot, error bars/.cd, y dir=minus, y explicit, error mark=none, error bar style={draw=white, line width=1.1pt}] table[x=x,y=t,y error minus=e]{\tMP};
\leg{bl}{10.0.1.13:3000 -> 10.0.0.13:40314 (mean=36.86, median=30.0 percentage)}
\end{axis}
\begin{axis}[pan, at={(0pt,-2928.15pt)}, yZ]
\zl{mag}{1.5pt}
\leg{mag}{10.0.0.13:40658 -> 10.0.1.13:1000 (mean=0.0, median=0.0 percentage)}
\end{axis}
\pgfresetboundingbox
\path[use as bounding box] (-51.5pt,23pt) rectangle (1633.5pt,-3042pt);
\end{tikzpicture}
\end{document}
